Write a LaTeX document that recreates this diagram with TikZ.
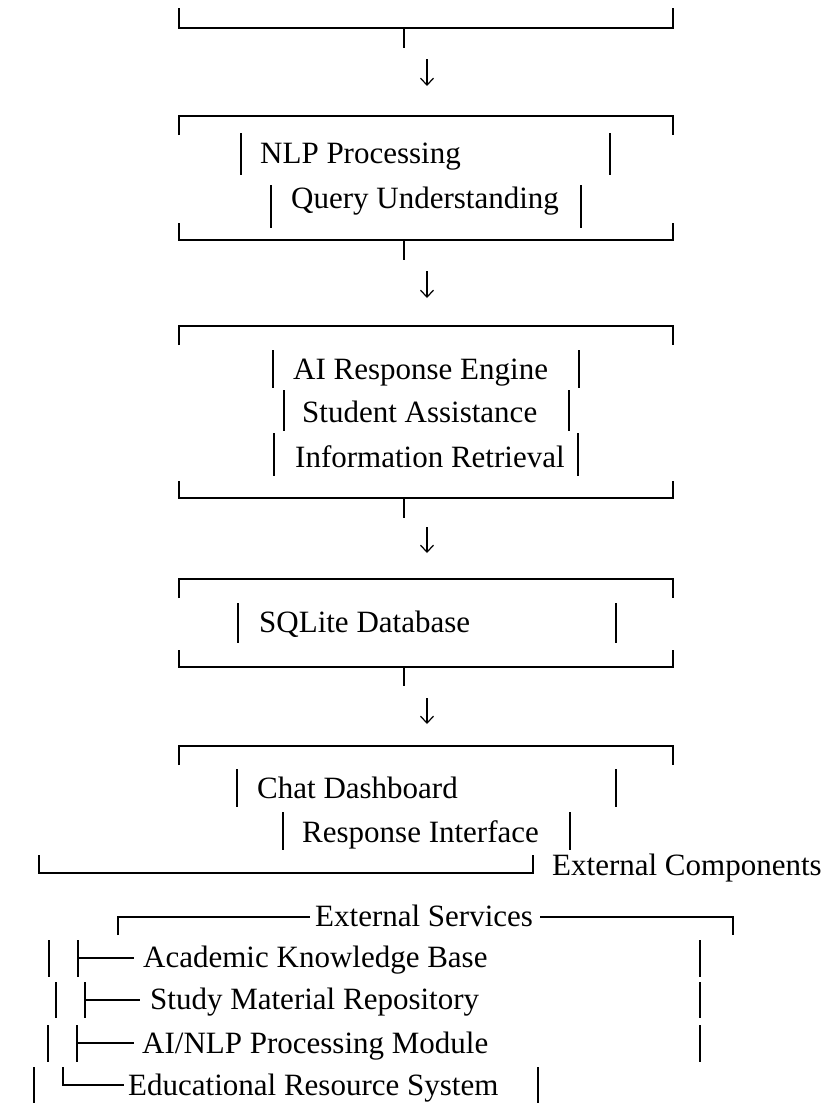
\documentclass[tikz,border=0pt]{standalone}
\usepackage{fontspec}
\setmainfont{Liberation Serif}
\usetikzlibrary{arrows.meta}
\begin{document}
\begin{tikzpicture}[x=1pt,y=-1pt,
  lbl/.style={anchor=base west, inner sep=0pt, font=\fontsize{31}{37}\selectfont},
  frame/.style={line width=2.2pt, line join=miter},
  bar/.style={line width=2pt},
  flow/.style={line width=1.2pt, -{Straight Barb[length=7pt,width=13pt,line width=1.2pt]}}]
\useasboundingbox (0,0) rectangle (835,1106);

% ---------- box 1 (bottom part only) ----------
\draw[frame] (179,8) -- (179,28) -- (673,28) -- (673,8);
\draw[frame] (404,28) -- (404,48);
\coordinate (a1s) at (427,59);
\coordinate (a1e) at (427,86);
\draw[flow] (a1s) -- (a1e);

% ---------- box 2 ----------
\draw[frame] (179,135) -- (179,116) -- (673,116) -- (673,135);
\node[lbl] (nlp) at (260,163) {NLP Processing};
\draw[bar] (241,133) -- (241,175);
\draw[bar] (610,133) -- (610,175);
\node[lbl] (query) at (291,208) {Query Understanding};
\draw[bar] (271,185) -- (271,228);
\draw[bar] (581,185) -- (581,228);
\draw[frame] (179,223) -- (179,240) -- (673,240) -- (673,223);
\draw[frame] (404,240) -- (404,260);
\coordinate (a2s) at (427,271);
\coordinate (a2e) at (427,298);
\draw[flow] (a2s) -- (a2e);

% ---------- box 3 ----------
\draw[frame] (179,345) -- (179,326) -- (673,326) -- (673,345);
\node[lbl] (ai) at (293,379) {AI Response Engine};
\draw[bar] (273,350) -- (273,388);
\draw[bar] (579,350) -- (579,388);
\node[lbl] (student) at (302,422) {Student Assistance};
\draw[bar] (284,390) -- (284,431);
\draw[bar] (569,390) -- (569,431);
\node[lbl] (info) at (295,467) {Information Retrieval};
\draw[bar] (274,433) -- (274,476);
\draw[bar] (578,433) -- (578,476);
\draw[frame] (179,481) -- (179,498) -- (673,498) -- (673,481);
\draw[frame] (404,498) -- (404,518);
\coordinate (a3s) at (427,527);
\coordinate (a3e) at (427,553);
\draw[flow] (a3s) -- (a3e);

% ---------- box 4 ----------
\draw[frame] (179,598) -- (179,579) -- (673,579) -- (673,598);
\node[lbl] (sqlite) at (259,632) {SQLite Database};
\draw[bar] (238,603) -- (238,643);
\draw[bar] (616,603) -- (616,643);
\draw[frame] (179,650) -- (179,667) -- (673,667) -- (673,650);
\draw[frame] (404,667) -- (404,686);
\coordinate (a4s) at (427,698);
\coordinate (a4e) at (427,724);
\draw[flow] (a4s) -- (a4e);

% ---------- box 5 ----------
\draw[frame] (179,765) -- (179,746) -- (673,746) -- (673,765);
\node[lbl] (chat) at (257,798) {Chat Dashboard};
\draw[bar] (237,769) -- (237,807);
\draw[bar] (616,769) -- (616,807);
\node[lbl] (resp) at (302,842) {Response Interface};
\draw[bar] (283,812) -- (283,850);
\draw[bar] (570,812) -- (570,850);
\draw[frame] (39,855) -- (39,873) -- (533,873) -- (533,855);
\node[lbl] (extc) at (552,875) {External Components};

% ---------- external services ----------
\node[lbl] (exts) at (315,926) {External Services};
\draw[frame] (118,935) -- (118,917) -- (310,917);
\draw[frame] (540,917) -- (733,917) -- (733,935);

\node[lbl] (acad) at (143,967) {Academic Knowledge Base};
\draw[bar] (49,940) -- (49,977);
\draw[bar] (78,940) -- (78,977);
\draw[bar] (78,958) -- (134,958);
\draw[bar] (700,940) -- (700,977);

\node[lbl] (study) at (150,1009) {Study Material Repository};
\draw[bar] (56,982) -- (56,1018);
\draw[bar] (85,982) -- (85,1018);
\draw[bar] (85,1000) -- (140,1000);
\draw[bar] (700,982) -- (700,1018);

\node[lbl] (ainlp) at (142,1053) {AI/NLP Processing Module};
\draw[bar] (48,1025) -- (48,1062);
\draw[bar] (77,1025) -- (77,1062);
\draw[bar] (77,1043) -- (134,1043);
\draw[bar] (700,1025) -- (700,1062);

\node[lbl] (edu) at (128,1095) {Educational Resource System};
\draw[bar] (34,1067) -- (34,1103);
\draw[bar, line join=miter] (63,1067) -- (63,1085) -- (124,1085);
\draw[bar] (538,1067) -- (538,1103);
\end{tikzpicture}
\end{document}
